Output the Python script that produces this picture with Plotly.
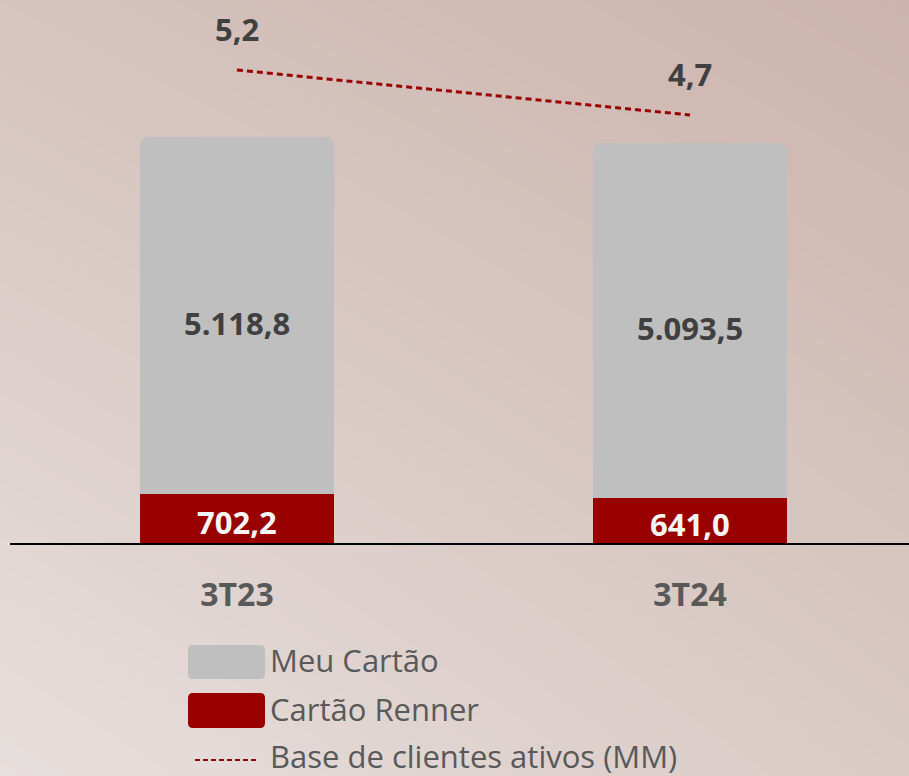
import plotly.graph_objects as go

# ---- data ----
periods = ["3T23", "3T24"]
cartao_renner = [702.2, 641.0]
meu_cartao = [5118.8, 5093.5]
base_clientes = [5.2, 4.7]
renner_labels = ["702,2", "641,0"]
meu_labels = ["5.118,8", "5.093,5"]
base_labels = ["5,2", "4,7"]

W, H = 909, 776
FONT = "Open Sans"
RED = "#990000"
GRAY = "#bfbfbf"
DARK = "#404040"
TXT = "#595959"

xpos = list(range(len(periods)))

fig = go.Figure()

# background gradient (decoration) on x/y
fig.add_trace(go.Heatmap(
    x=[0, 1], y=[0, 1], z=[[0.0, 0.48], [0.64, 1.0]],
    colorscale=[[0, "#e7dfdd"], [1, "#ccb4ac"]], zsmooth="best",
    showscale=False, hoverinfo="skip", xaxis="x", yaxis="y"))

fig.add_trace(go.Bar(
    x=xpos, y=cartao_renner, name="Cartão Renner", marker_color=RED,
    width=0.428, xaxis="x2", yaxis="y2", showlegend=False))
fig.add_trace(go.Bar(
    x=xpos, y=meu_cartao, name="Meu Cartão", marker_color=GRAY,
    width=0.428, xaxis="x2", yaxis="y2", showlegend=False))
fig.add_trace(go.Scatter(
    x=xpos, y=base_clientes, name="Base de clientes ativos (MM)", mode="lines",
    line=dict(color=RED, width=3, dash="6px,4px"),
    xaxis="x2", yaxis="y3", showlegend=False))

NUMSIZE = 31
annotations = []
for i in xpos:
    annotations.append(dict(x=i, y=cartao_renner[i] / 2, xref="x2", yref="y2",
                            text="<b>%s</b>" % renner_labels[i], showarrow=False, yshift=-3,
                            font=dict(family=FONT, size=NUMSIZE, color="#f5f5f5")))
    annotations.append(dict(x=i, y=cartao_renner[i] + meu_cartao[i] / 2, xref="x2", yref="y2",
                            text="<b>%s</b>" % meu_labels[i], showarrow=False, yshift=-7,
                            font=dict(family=FONT, size=NUMSIZE, color=DARK)))
    annotations.append(dict(x=i, y=base_clientes[i], xref="x2", yref="y3",
                            text="<b>%s</b>" % base_labels[i], showarrow=False, yshift=41,
                            font=dict(family=FONT, size=NUMSIZE, color=DARK)))

# manual legend
def px(x):
    return x / W

def py(y):
    return 1 - y / H

def rrect(x0, y0, x1, y1, r=5):
    rx, ry = r / W, r / H
    X0, X1 = px(x0), px(x1)
    Y0, Y1 = py(y1), py(y0)
    return (f"M {X0+rx},{Y0} L {X1-rx},{Y0} Q {X1},{Y0} {X1},{Y0+ry} "
            f"L {X1},{Y1-ry} Q {X1},{Y1} {X1-rx},{Y1} L {X0+rx},{Y1} "
            f"Q {X0},{Y1} {X0},{Y1-ry} L {X0},{Y0+ry} Q {X0},{Y0} {X0+rx},{Y0} Z")

shapes = [
    dict(type="path", xref="paper", yref="paper", path=rrect(188, 645, 265, 679),
         fillcolor=GRAY, line=dict(width=0)),
    dict(type="path", xref="paper", yref="paper", path=rrect(188, 693, 265, 728),
         fillcolor=RED, line=dict(width=0)),
    dict(type="line", xref="paper", yref="paper", x0=px(195), x1=px(259), y0=py(760), y1=py(760),
         line=dict(color=RED, width=2, dash="5px,3px")),
]
for t, yc in [("Meu Cartão", 660), ("Cartão Renner", 709), ("Base de clientes ativos (MM)", 756)]:
    annotations.append(dict(x=px(268), y=py(yc), xref="paper", yref="paper", text=t,
                            showarrow=False, xanchor="left", yanchor="middle",
                            font=dict(family=FONT, size=31, color=TXT)))

fig.update_layout(
    width=W, height=H, margin=dict(l=0, r=0, t=0, b=0),
    paper_bgcolor="#e0d4d0", plot_bgcolor="rgba(0,0,0,0)",
    barmode="stack", bargap=0, showlegend=False,
    xaxis=dict(domain=[0, 1], range=[0, 1], visible=False, fixedrange=True),
    yaxis=dict(domain=[0, 1], range=[0, 1], visible=False, fixedrange=True),
    xaxis2=dict(domain=[10 / W, 1], anchor="y2", range=[-0.501, 1.4834],
                tickvals=xpos, ticktext=["<b>%s</b>" % p for p in periods],
                tickfont=dict(family=FONT, size=32, color=TXT), ticks="",
                ticklabelstandoff=23, showline=True, linecolor="#000000", linewidth=1.5,
                showgrid=False, zeroline=False),
    yaxis2=dict(domain=[233 / H, 1], anchor="x2", range=[0, 7785], visible=False,
                showgrid=False, zeroline=False),
    yaxis3=dict(overlaying="y2", anchor="x2", range=[-0.056, 5.978], visible=False,
                showgrid=False, zeroline=False),
    annotations=annotations, shapes=shapes,
    font=dict(family=FONT),
)
fig.update_traces(marker_cornerradius=8, marker_line_width=0, selector=dict(type="bar"))

fig.write_html("out.html", config={"displayModeBar": False},
               post_script="document.body.style.margin='0';document.body.style.overflow='hidden';")
